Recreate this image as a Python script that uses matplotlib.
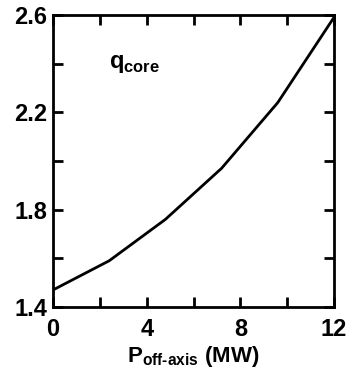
import matplotlib.pyplot as plt
from matplotlib.ticker import MultipleLocator

# q_core vs off-axis power
p_off_axis = [0, 2.4, 4.8, 7.2, 9.6, 12]
q_core = [1.47, 1.59, 1.76, 1.97, 2.24, 2.59]

x_ticks = [0, 4, 8, 12]
y_ticks = [1.4, 1.8, 2.2, 2.6]

plt.rcParams['font.family'] = ['Liberation Sans', 'DejaVu Sans']
plt.rcParams['mathtext.fontset'] = 'custom'
plt.rcParams['mathtext.rm'] = 'Liberation Sans:bold'
plt.rcParams['mathtext.bf'] = 'Liberation Sans:bold'

fig = plt.figure(figsize=(3.49, 3.73), dpi=100)
ax = fig.add_axes([0.152, 0.177, 0.805, 0.783])

ax.plot(p_off_axis, q_core, color='black', linewidth=2)

ax.set_xlim(0, 12)
ax.set_ylim(1.4, 2.6)
ax.set_xticks(x_ticks)
ax.set_yticks(y_ticks)
ax.xaxis.set_minor_locator(MultipleLocator(2))
ax.yaxis.set_minor_locator(MultipleLocator(0.2))
ax.set_xticklabels([str(v) for v in x_ticks])
ax.set_yticklabels([f'{v:.1f}' for v in y_ticks])

ax.tick_params(which='both', direction='in', top=True, right=True,
               width=2, length=7, labelsize=17)
ax.tick_params(axis='x', pad=8)
ax.tick_params(axis='y', pad=4)
for lbl in ax.get_xticklabels() + ax.get_yticklabels():
    lbl.set_fontweight('bold')

for s in ax.spines.values():
    s.set_linewidth(2)

ax.set_xlabel(r'P$_{\text{off-axis}}$ (MW)', fontsize=16, fontweight='bold', labelpad=2)
ax.text(2.4, 2.38, r'q$_{\text{core}}$', fontsize=17, fontweight='bold')

fig.savefig('out.png', dpi=100)
